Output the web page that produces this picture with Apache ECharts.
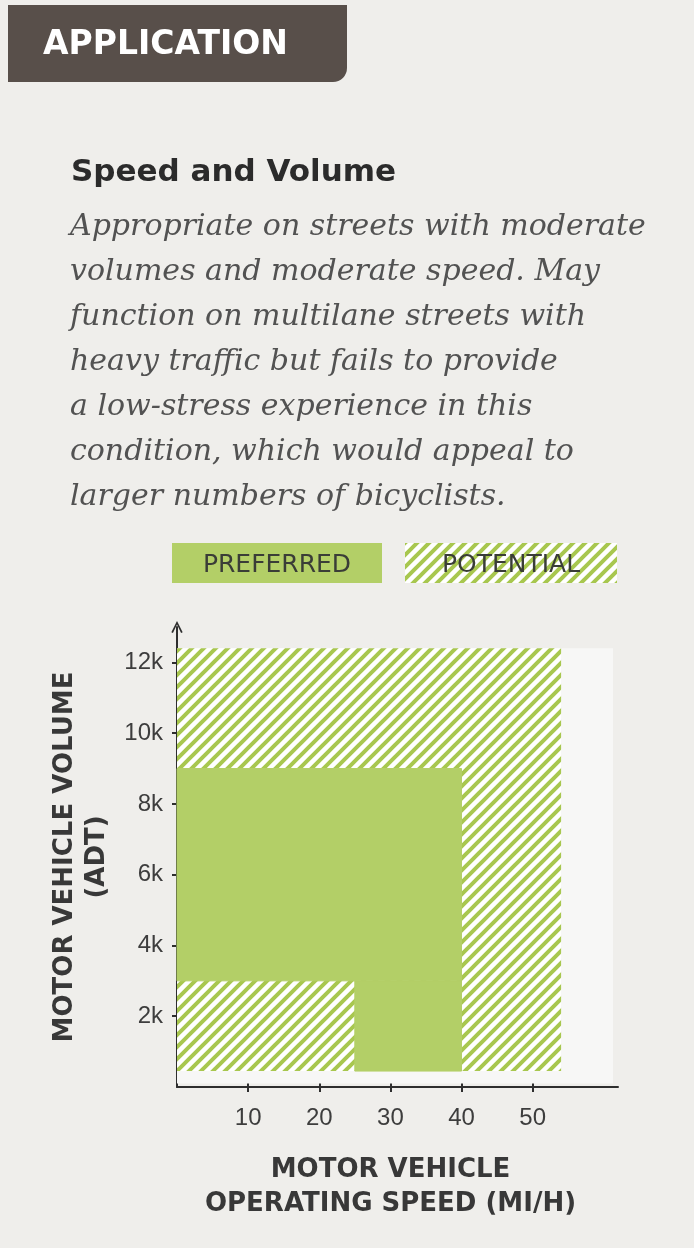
<!DOCTYPE html>
<html>
<head>
<meta charset="utf-8">
<script src="https://cdn.jsdelivr.net/npm/echarts@6/dist/echarts.min.js"></script>
<style>
  html, body { margin: 0; padding: 0; background: #efeeeb; }
  #chart { width: 694px; height: 1248px; }
</style>
</head>
<body>
<div id="chart"></div>
<script>
// Axis ticks (mph and thousands of vehicles per day)
const speedTicks = [10, 20, 30, 40, 50];
const volumeTicks = [2, 4, 6, 8, 10, 12];

// Zones as [speedFrom, speedTo, volumeFrom, volumeTo]
const plotPanel = [[0, 61.3, 0.1, 12.4]];
const potentialZones = [[0, 54, 0.45, 12.4]];
const preferredZones = [[0, 40, 3, 9], [25, 40, 0.45, 3]];

const descriptionLines = [
  'Appropriate on streets with moderate',
  'volumes and moderate speed. May',
  'function on multilane streets with',
  'heavy traffic but fails to provide',
  'a low-stress experience in this',
  'condition, which would appeal to',
  'larger numbers of bicyclists.'
];

const GREEN = '#b3cf67';
const STRIPE = '#a8c74f';
const INK = '#383838';

// Diagonal "/" stripe tile used for the potential zone
function makeHatch() {
  const p = 12;
  const c = document.createElement('canvas');
  c.width = p; c.height = p;
  const ctx = c.getContext('2d');
  ctx.fillStyle = '#ffffff';
  ctx.fillRect(0, 0, p, p);
  ctx.strokeStyle = STRIPE;
  ctx.lineWidth = 4;
  ctx.beginPath();
  [-p, 0, p].forEach(k => {
    ctx.moveTo(k - 3, p + 3);
    ctx.lineTo(k + p + 3, -3);
  });
  ctx.stroke();
  return c;
}
const hatch = { image: makeHatch(), repeat: 'repeat' };

function zoneRenderer(fill, solid) {
  return function (params, api) {
    const a = api.coord([api.value(0), api.value(3)]);
    const b = api.coord([api.value(1), api.value(2)]);
    const style = { fill: fill };
    if (solid) { style.stroke = fill; style.lineWidth = 1; }
    return {
      type: 'rect',
      shape: { x: a[0], y: a[1], width: b[0] - a[0], height: b[1] - a[1] },
      style: style,
      silent: true
    };
  };
}

const chart = echarts.init(document.getElementById('chart'), null, { renderer: 'canvas' });

const sansBold = "'DejaVu Sans', sans-serif";
const tickLine = { color: '#2e2e2e', width: 2 };

chart.setOption({
  backgroundColor: '#efeeeb',
  animation: false,
  grid: { left: 177, right: 76, top: 627, bottom: 161, containLabel: false },
  xAxis: [{
    type: 'value', min: 0, max: 62,
    name: 'MOTOR VEHICLE\nOPERATING SPEED (MI/H)',
    nameLocation: 'middle', nameGap: 66,
    nameTextStyle: { fontFamily: sansBold, fontWeight: 'bold', fontSize: 26, color: INK, lineHeight: 34, padding: [0, 14, 0, 0] },
    axisLine: { lineStyle: { color: '#2e2e2e', width: 2 } },
    axisTick: { customValues: speedTicks, length: 5, lineStyle: tickLine },
    axisLabel: { customValues: speedTicks, margin: 19, fontFamily: "'Liberation Sans', sans-serif", fontSize: 24, color: '#3d3d3d' },
    splitLine: { show: false }
  }, {
    // twin axis: inner half of the tick marks
    type: 'value', min: 0, max: 62, position: 'bottom',
    axisLine: { show: false },
    axisTick: { customValues: speedTicks, inside: true, length: 4, lineStyle: tickLine },
    axisLabel: { show: false },
    splitLine: { show: false }
  }],
  yAxis: [{
    type: 'value', min: 0, max: 13,
    name: 'MOTOR VEHICLE VOLUME\n(ADT)',
    nameLocation: 'middle', nameGap: 60,
    nameTextStyle: { fontFamily: sansBold, fontWeight: 'bold', fontSize: 26, color: INK, lineHeight: 32 },
    axisLine: {
      lineStyle: { color: '#2e2e2e', width: 2 },
      symbol: ['none', 'path://M0,10 L5,0 L10,10 L8.6,10.6 L5,3 L1.4,10.6 Z'],
      symbolSize: [12, 12]
    },
    axisTick: { customValues: volumeTicks, length: 5, lineStyle: tickLine },
    axisLabel: {
      customValues: volumeTicks, margin: 14,
      formatter: v => v + 'k',
      fontFamily: "'Liberation Sans', sans-serif", fontSize: 24, color: '#3d3d3d'
    },
    splitLine: { show: false }
  }, {
    // twin axis: inner half of the tick marks
    type: 'value', min: 0, max: 13, position: 'left',
    axisLine: { show: false },
    axisTick: { customValues: volumeTicks, inside: true, length: 4, lineStyle: tickLine },
    axisLabel: { show: false },
    splitLine: { show: false }
  }],
  series: [
    { type: 'custom', name: 'panel', data: plotPanel, renderItem: zoneRenderer('#f7f7f6', false), z: 1 },
    { type: 'custom', name: 'POTENTIAL', data: potentialZones, renderItem: zoneRenderer(hatch, false), z: 2 },
    { type: 'custom', name: 'PREFERRED', data: preferredZones, renderItem: zoneRenderer(GREEN, true), z: 3 }
  ],
  graphic: [
    // section tab
    { type: 'rect', left: 8, top: 5, shape: { width: 339, height: 77, r: [0, 0, 14, 0] }, style: { fill: '#584f4a' } },
    { type: 'text', x: 43, y: 45, style: { text: 'APPLICATION', fill: '#ffffff', font: "bold 33px 'DejaVu Sans', sans-serif", verticalAlign: 'middle' } },
    // heading and description
    { type: 'text', x: 71, y: 173, style: { text: 'Speed and Volume', fill: '#2b2b2b', font: "bold 31px 'DejaVu Sans', sans-serif", verticalAlign: 'middle' } },
    { type: 'text', left: 70, top: 205, style: {
        text: descriptionLines.join('\n'), fill: '#525252', lineHeight: 45,
        font: "italic 30px 'DejaVu Serif', serif" } },
    // legend
    { type: 'rect', left: 172, top: 543, shape: { width: 210, height: 40 }, style: { fill: GREEN } },
    { type: 'text', x: 277, y: 565, style: { text: 'PREFERRED', fill: '#3a3d37', font: "25px 'DejaVu Sans', sans-serif", align: 'center', verticalAlign: 'middle' } },
    { type: 'rect', left: 405, top: 543, shape: { width: 212, height: 40 }, style: { fill: hatch } },
    { type: 'text', x: 511, y: 565, style: { text: 'POTENTIAL', fill: '#3a3d37', font: "25px 'DejaVu Sans', sans-serif", align: 'center', verticalAlign: 'middle' } }
  ]
});
</script>
</body>
</html>
